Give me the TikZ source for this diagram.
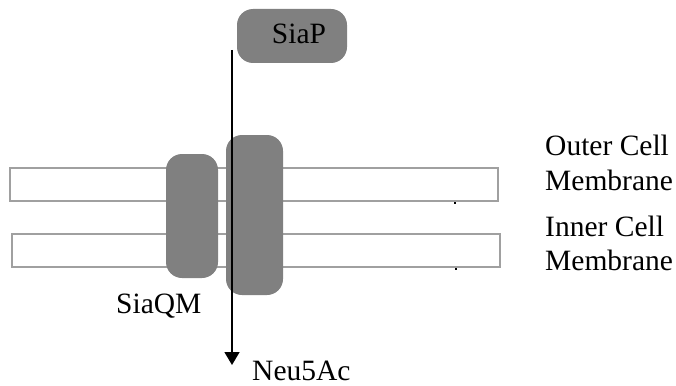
\documentclass[tikz,border=0pt]{standalone}
\usepackage{fontspec}
\setmainfont{Liberation Serif}
\usetikzlibrary{arrows.meta}
\definecolor{protein}{HTML}{808080}
\definecolor{membraneedge}{HTML}{A0A0A0}
\tikzset{
  membrane/.style={draw=membraneedge, line width=1.3pt, fill=white},
  blob/.style={rectangle, rounded corners=16pt, fill=protein, draw=none, inner sep=0pt},
  lbl/.style={inner sep=0pt, anchor=base west, font=\fontsize{29.5}{34}\selectfont},
  flux/.style={line width=1.5pt, -{Triangle[width=15pt,length=13pt]}}
}
\begin{document}
\begin{tikzpicture}[x=1pt,y=-1pt]
  \useasboundingbox (0,0) rectangle (676,385);
  % the two membrane layers
  \draw[membrane] (10,168) rectangle (498,201);
  \draw[membrane] (12,234) rectangle (500,267);
  \fill (454,201.5) rectangle (456,203.5);
  \fill (455,267.5) rectangle (457,269.5);
  % transporter subunits
  \node[blob, minimum width=52pt, minimum height=124pt] (siaqm) at (192,216) {};
  \node[blob, minimum width=57pt, minimum height=160pt] (siat) at (254.5,215) {};
  \node[blob, minimum width=110pt, minimum height=54pt] (siap) at (292,36) {};
  \node[lbl, anchor=base] (siaptext) at (299,44) {SiaP};
  % substrate path
  \coordinate (src) at (232,50);
  \coordinate (dst) at (232,365);
  \draw[flux] (src) -- (dst);
  % labels
  \node[lbl] (siaqmtext) at (116,313) {SiaQM};
  \node[lbl] (neu) at (252,380) {Neu5Ac};
  \node[lbl] (outer1) at (545,155) {Outer Cell};
  \node[lbl] (outer2) at (545,190) {Membrane};
  \node[lbl] (inner1) at (545,236) {Inner Cell};
  \node[lbl] (inner2) at (545,270) {Membrane};
\end{tikzpicture}
\end{document}
